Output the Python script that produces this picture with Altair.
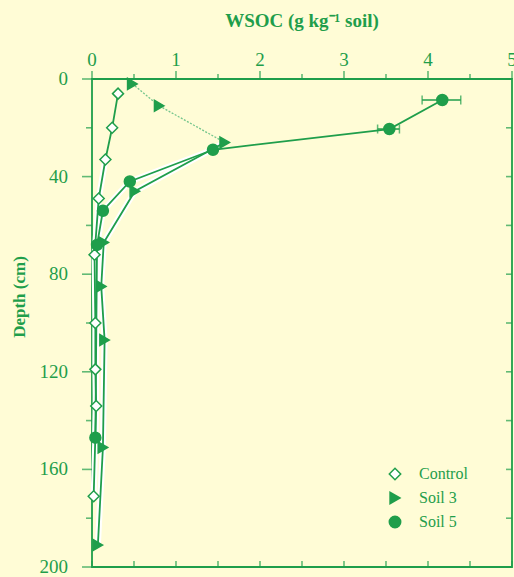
import altair as alt
import pandas as pd

GREEN = "#1f9e4b"
LIGHT = "#74c58c"
BG = "#fffcd6"
FONT = "Liberation Serif"

# ---- data ----
series_names = ["Control", "Soil 3", "Soil 5"]

ctrl_depth = [6, 20, 33, 49, 72, 100, 119, 134, 171]
ctrl_wsoc = [0.31, 0.24, 0.16, 0.08, 0.03, 0.04, 0.04, 0.05, 0.02]

s3_depth = [2, 11, 26, 46, 67, 85, 107, 151, 191]
s3_wsoc = [0.48, 0.80, 1.58, 0.51, 0.14, 0.11, 0.15, 0.13, 0.07]

s5_depth = [8.6, 20.5, 29, 42, 54, 68, 147]
s5_wsoc = [4.17, 3.54, 1.44, 0.45, 0.13, 0.06, 0.04]

err_depth = [8.6, 20.5]
err_lo = [3.93, 3.40]
err_hi = [4.39, 3.66]

x_major = [0, 1, 2, 3, 4, 5]
x_labels = ["0", "1", "2", "3", "4", "5"]
x_minor = [0.5, 1.5, 2.5, 3.5, 4.5]
x_all = [0, 0.5, 1, 1.5, 2, 2.5, 3, 3.5, 4, 4.5, 5]
y_major = [0, 40, 80, 120, 160, 200]
y_labels = ["0", "40", "80", "120", "160", "200"]
y_minor = [20, 60, 100, 140, 180]
y_all = [0, 20, 40, 60, 80, 100, 120, 140, 160, 180, 200]

x_title = "WSOC (g kg⁻¹ soil)"
y_title = "Depth (cm)"

# ---- tables ----
rows = []
for n, ds, ws in [("Control", ctrl_depth, ctrl_wsoc),
                  ("Soil 3", s3_depth, s3_wsoc),
                  ("Soil 5", s5_depth, s5_wsoc)]:
    for d, w in zip(ds, ws):
        rows.append({"series": n, "depth": d, "wsoc": w})
pts = pd.DataFrame(rows)

line_rows = []
for d, w in zip(ctrl_depth, ctrl_wsoc):
    line_rows.append({"series": "Control", "seg": "Control", "style": "solid", "depth": d, "wsoc": w})
for i, (d, w) in enumerate(zip(s3_depth, s3_wsoc)):
    if i <= 2:
        line_rows.append({"series": "Soil 3", "seg": "Soil 3a", "style": "dotted", "depth": d, "wsoc": w})
    if i >= 2:
        line_rows.append({"series": "Soil 3", "seg": "Soil 3b", "style": "solid", "depth": d, "wsoc": w})
for d, w in zip(s5_depth, s5_wsoc):
    line_rows.append({"series": "Soil 5", "seg": "Soil 5", "style": "solid", "depth": d, "wsoc": w})
lines = pd.DataFrame(line_rows)

err = pd.DataFrame({"depth": err_depth, "lo": err_lo, "hi": err_hi})

xs = alt.Scale(domain=[0, 5], nice=False, zero=False)
ys = alt.Scale(domain=[0, 200], reverse=True, nice=False, zero=False)

X = lambda f: alt.X(f, scale=xs, axis=None)
Y = lambda f: alt.Y(f, scale=ys, axis=None)
XD = lambda v: alt.XDatum(v, scale=xs, axis=None)
YD = lambda v: alt.YDatum(v, scale=ys, axis=None)

# ---- axis decorations drawn through the scales ----
def xticks(vals, at, size, off):
    return alt.Chart(pd.DataFrame({"v": vals})).mark_tick(
        color=GREEN, orient="vertical", size=size, thickness=1.6, yOffset=off
    ).encode(x=X("v:Q"), y=YD(at))

def yticks(vals, at, size, off):
    return alt.Chart(pd.DataFrame({"v": vals})).mark_tick(
        color=GREEN, orient="horizontal", size=size, thickness=1.6, xOffset=off
    ).encode(y=Y("v:Q"), x=XD(at))

tick_layers = [
    xticks(x_major, 0, 8, -4),
    xticks(x_minor, 0, 5, -2.5),
    xticks(x_all, 200, 6, -3),
    yticks(y_major, 0, 10, -5),
    yticks(y_minor, 0, 6, -3),
    yticks(y_all, 5, 6, -3),
]

x_lab = alt.Chart(pd.DataFrame({"v": x_major, "t": x_labels})).mark_text(
    color=GREEN, font=FONT, fontSize=19, baseline="alphabetic", align="center", yOffset=-13
).encode(x=X("v:Q"), y=YD(0), text="t:N")

y_lab = alt.Chart(pd.DataFrame({"v": y_major, "t": y_labels})).mark_text(
    color=GREEN, font=FONT, fontSize=19, baseline="middle", align="right", xOffset=-24
).encode(y=Y("v:Q"), x=XD(0), text="t:N")

x_tit = alt.Chart(pd.DataFrame({"t": [x_title]})).mark_text(
    color=GREEN, font=FONT, fontSize=19, fontWeight="bold", baseline="alphabetic",
    align="center", yOffset=-52
).encode(x=XD(2.5), y=YD(0), text="t:N")

y_tit = alt.Chart(pd.DataFrame({"t": [y_title]})).mark_text(
    color=GREEN, font=FONT, fontSize=17, fontWeight="bold", baseline="middle",
    align="center", angle=270, xOffset=-72, yOffset=-26
).encode(x=XD(0), y=YD(100), text="t:N")

# ---- data marks ----
base_lines = alt.Chart(lines)
enc_common = dict(detail="seg:N", order="depth:Q")

halo = base_lines.mark_line(color="white", strokeWidth=6, strokeCap="round").encode(
    x=X("wsoc:Q"), y=Y("depth:Q"), **enc_common,
).transform_filter("datum.depth >= 26")

solid = base_lines.mark_line(color=GREEN, strokeWidth=1.8).encode(
    x=X("wsoc:Q"), y=Y("depth:Q"), **enc_common,
).transform_filter("datum.style == 'solid'")

dotted = base_lines.mark_line(color=LIGHT, strokeWidth=1.3, strokeDash=[2, 1.5]).encode(
    x=X("wsoc:Q"), y=Y("depth:Q"), **enc_common,
).transform_filter("datum.style == 'dotted'")

eb_rule = alt.Chart(err).mark_rule(color=GREEN, strokeWidth=1.5).encode(
    x=X("lo:Q"), x2="hi:Q", y=Y("depth:Q"),
)
eb_lo = alt.Chart(err).mark_tick(color=GREEN, orient="vertical", size=9, thickness=1.5).encode(
    x=X("lo:Q"), y=Y("depth:Q"),
)
eb_hi = alt.Chart(err).mark_tick(color=GREEN, orient="vertical", size=9, thickness=1.5).encode(
    x=X("hi:Q"), y=Y("depth:Q"),
)

legend = alt.Legend(
    title=None, orient="none", legendX=295, legendY=387, padding=0,
    labelColor=GREEN, labelFont=FONT, labelFontSize=16,
    symbolStrokeWidth=1.5, symbolSize=130,
    rowPadding=6, labelOffset=16, symbolOpacity=1,
)

points = alt.Chart(pts).mark_point(filled=False, strokeWidth=1.5, opacity=1, size=120).encode(
    x=X("wsoc:Q"),
    y=Y("depth:Q"),
    shape=alt.Shape("series:N", scale=alt.Scale(domain=series_names,
                                                 range=["diamond", "triangle-right", "circle"]),
                    legend=legend),
    fill=alt.Fill("series:N", scale=alt.Scale(domain=series_names,
                                               range=["white", GREEN, GREEN]),
                  legend=legend),
    stroke=alt.Stroke("series:N", scale=alt.Scale(domain=series_names,
                                                   range=[GREEN, GREEN, GREEN]),
                      legend=legend),
)

chart = alt.layer(
    halo, *tick_layers, x_lab, y_lab, x_tit, y_tit,
    dotted, solid, eb_rule, eb_lo, eb_hi, points
).properties(
    width=420, height=488,
    autosize=alt.AutoSizeParams(type="none"),
    padding={"left": 92, "top": 79, "right": 2, "bottom": 10},
    background=BG,
).configure_view(stroke=GREEN, strokeWidth=1.8)

chart.save("out.html", embed_options={"renderer": "svg", "actions": False})
